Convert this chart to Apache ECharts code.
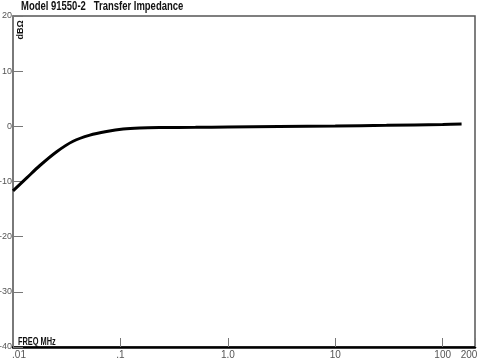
<!DOCTYPE html>
<html>
<head>
<meta charset="utf-8">
<script src="https://cdn.jsdelivr.net/npm/echarts@6/dist/echarts.min.js"></script>
<style>html,body{margin:0;padding:0;background:#fff}#c{width:477px;height:360px}</style>
</head>
<body>
<div id="c"></div>
<script>
var titleText = 'Model 91550-2   Transfer Impedance';
var yUnit = 'dB\u03A9';
var xUnit = 'FREQ MHz';
var freqMHz = [0.01, 0.0135, 0.0178, 0.0255, 0.0363, 0.052, 0.0743, 0.106, 0.151, 0.23, 0.5, 1, 3, 10, 30, 100, 150];
var impedanceDb = [-11.7, -9.3, -7.1, -4.6, -2.7, -1.6, -0.95, -0.5, -0.3, -0.22, -0.18, -0.13, -0.05, 0.05, 0.18, 0.35, 0.42];
var xTickLabels = {'0.01': '.01', '0.1': '.1', '1': '1.0', '10': '10', '100': '100', '200': '200'};

var FONT = '"Liberation Sans", Arial, sans-serif';
var chart = echarts.init(document.getElementById('c'), null, {renderer: 'canvas'});
var pts = freqMHz.map(function (f, i) { return [f, impedanceDb[i]]; });

chart.setOption({
  animation: false,
  backgroundColor: '#fff',
  grid: {left: 13, right: 2, top: 16, bottom: 13, containLabel: false, outerBoundsMode: 'none',
    show: true, borderColor: '#555', borderWidth: 1.5, backgroundColor: 'transparent'},
  xAxis: {
    type: 'log', logBase: 10, min: 0.01, max: 200,
    axisLine: {show: true, onZero: false, lineStyle: {color: '#000', width: 2.5}},
    axisTick: {show: true, inside: true, length: 9, lineStyle: {color: '#777', width: 1}},
    splitLine: {show: false},
    axisLabel: {
      margin: 3, color: '#555', fontFamily: FONT, fontSize: 10,
      formatter: function (v) {
        var k = String(Math.round(v * 1000) / 1000);
        var s = xTickLabels[k] || '';
        if (k === '200') return '{r|' + s + '}';
        if (k === '0.01') return '{l|' + s + '}';
        return s;
      },
      rich: {
        r: {padding: [0, 12, 0, 0], color: '#555', fontFamily: FONT, fontSize: 10},
        l: {padding: [0, 0, 0, 12], color: '#555', fontFamily: FONT, fontSize: 10}
      }
    }
  },
  yAxis: {
    type: 'value', min: -40, max: 20, interval: 10,
    axisLine: {show: true, lineStyle: {color: '#777', width: 1.5}},
    axisTick: {show: true, inside: true, length: 10, lineStyle: {color: '#777', width: 1}},
    splitLine: {show: false},
    axisLabel: {margin: 1, color: '#555', fontFamily: FONT, fontSize: 9}
  },
  graphic: [
    {type: 'text', x: 21, y: 7, scaleX: 0.79,
      style: {text: titleText, font: 'bold 12px ' + FONT, fill: '#111', align: 'left', verticalAlign: 'middle'}},
    {type: 'text', x: 21, y: 30, rotation: Math.PI / 2,
      style: {text: yUnit, font: 'bold 9px ' + FONT, fill: '#111', align: 'center', verticalAlign: 'middle'}},
    {type: 'text', x: 18, y: 342, scaleX: 0.74,
      style: {text: xUnit, font: 'bold 10px ' + FONT, fill: '#111', align: 'left', verticalAlign: 'middle'}}
  ],
  series: [{
    type: 'line', data: pts, smooth: 0.3, symbol: 'none',
    lineStyle: {color: '#000', width: 3}
  }]
});
</script>
</body>
</html>
